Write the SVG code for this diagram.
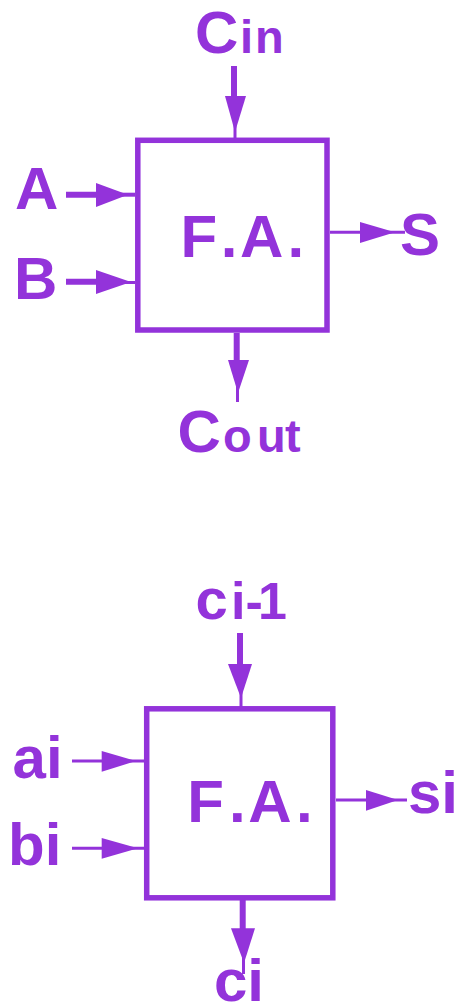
<svg xmlns="http://www.w3.org/2000/svg" width="457" height="1005" viewBox="0 0 457 1005">
<style>
.box{fill:#fff;stroke:#9333DA;stroke-width:5.5}
.ln{stroke:#9333DA;fill:none}
.hd{fill:#9333DA}
.t{font-family:"Liberation Sans",Arial,sans-serif;font-weight:bold;font-size:60px;fill:#9333DA}
.s{font-size:47px}
</style>
<rect width="457" height="1005" fill="#fff"/>
<g id="connectors">
  <line class="ln" x1="234" y1="66" x2="234" y2="100" stroke-width="6"/>
  <line class="ln" x1="235" y1="120" x2="235" y2="138" stroke-width="3"/>
  <polygon class="hd" points="225,96 246,96 235,132"/>
  <line class="ln" x1="66" y1="194.7" x2="100" y2="194.7" stroke-width="6"/>
  <line class="ln" x1="110" y1="194.7" x2="135" y2="194.7" stroke-width="4"/>
  <polygon class="hd" points="96,183 96,207 128,194.7"/>
  <line class="ln" x1="66" y1="281.7" x2="100" y2="281.7" stroke-width="6"/>
  <line class="ln" x1="110" y1="282.5" x2="135" y2="282.5" stroke-width="3"/>
  <polygon class="hd" points="96,270 96,294 131,282"/>
  <line class="ln" x1="330" y1="232.3" x2="405" y2="232.3" stroke-width="3"/>
  <polygon class="hd" points="360,222 360,243 395,232.3"/>
  <line class="ln" x1="236.7" y1="333" x2="236.7" y2="365" stroke-width="6"/>
  <line class="ln" x1="237.5" y1="380" x2="237.5" y2="402" stroke-width="3"/>
  <polygon class="hd" points="228,360 249,360 238,393"/>
  <line class="ln" x1="240" y1="633" x2="240" y2="668" stroke-width="6"/>
  <line class="ln" x1="241" y1="690" x2="241" y2="707" stroke-width="3"/>
  <polygon class="hd" points="228,664 252,664 241,698"/>
  <line class="ln" x1="72" y1="761" x2="145" y2="761" stroke-width="3"/>
  <polygon class="hd" points="101.7,751 101.7,771.7 136,761"/>
  <line class="ln" x1="72" y1="848.3" x2="145" y2="848.3" stroke-width="3"/>
  <polygon class="hd" points="101.7,838 101.7,858.7 138,848.3"/>
  <line class="ln" x1="336" y1="800" x2="407" y2="800" stroke-width="3"/>
  <polygon class="hd" points="366,790 366,810.7 398,800"/>
  <line class="ln" x1="242.7" y1="900" x2="242.7" y2="932" stroke-width="6"/>
  <line class="ln" x1="243.5" y1="950" x2="243.5" y2="974" stroke-width="3"/>
  <polygon class="hd" points="231,928.3 255,928.3 244,963"/>
</g>
<g id="fa1">
  <rect class="box" x="137.8" y="140.3" width="189.2" height="189.7"/>
  <text class="t" x="180.6 220.8 240 287.5" y="257">F.A.</text>
</g>
<g id="cin"><text class="t" y="53"><tspan x="195">C</tspan><tspan class="s" x="240">i</tspan><tspan class="s" x="255">n</tspan></text></g>
<g id="a"><text class="t" x="15" y="209">A</text></g>
<g id="b"><text class="t" x="14" y="299">B</text></g>
<g id="s"><text class="t" x="400" y="255">S</text></g>
<g id="cout"><text class="t" y="452"><tspan x="177.5">C</tspan><tspan class="s" x="223">o</tspan><tspan class="s" x="257">u</tspan><tspan class="s" x="285">t</tspan></text></g>
<g id="fa2">
  <rect class="box" x="146.7" y="708.8" width="186.1" height="189"/>
  <text class="t" x="187.3 229 248.3 296" y="822">F.A.</text>
</g>
<g id="ci1"><text class="t" y="619.3" style="font-size:52px"><tspan x="195.5" style="font-size:58px">c</tspan><tspan x="231 245.5 258">i-1</tspan></text></g>
<g id="ai"><text class="t" x="12.6" y="778">ai</text></g>
<g id="bi"><text class="t" x="8" y="865">bi</text></g>
<g id="si"><text class="t" x="408" y="812.7">si</text></g>
<g id="ci"><text class="t" x="214" y="1001">ci</text></g>
</svg>
